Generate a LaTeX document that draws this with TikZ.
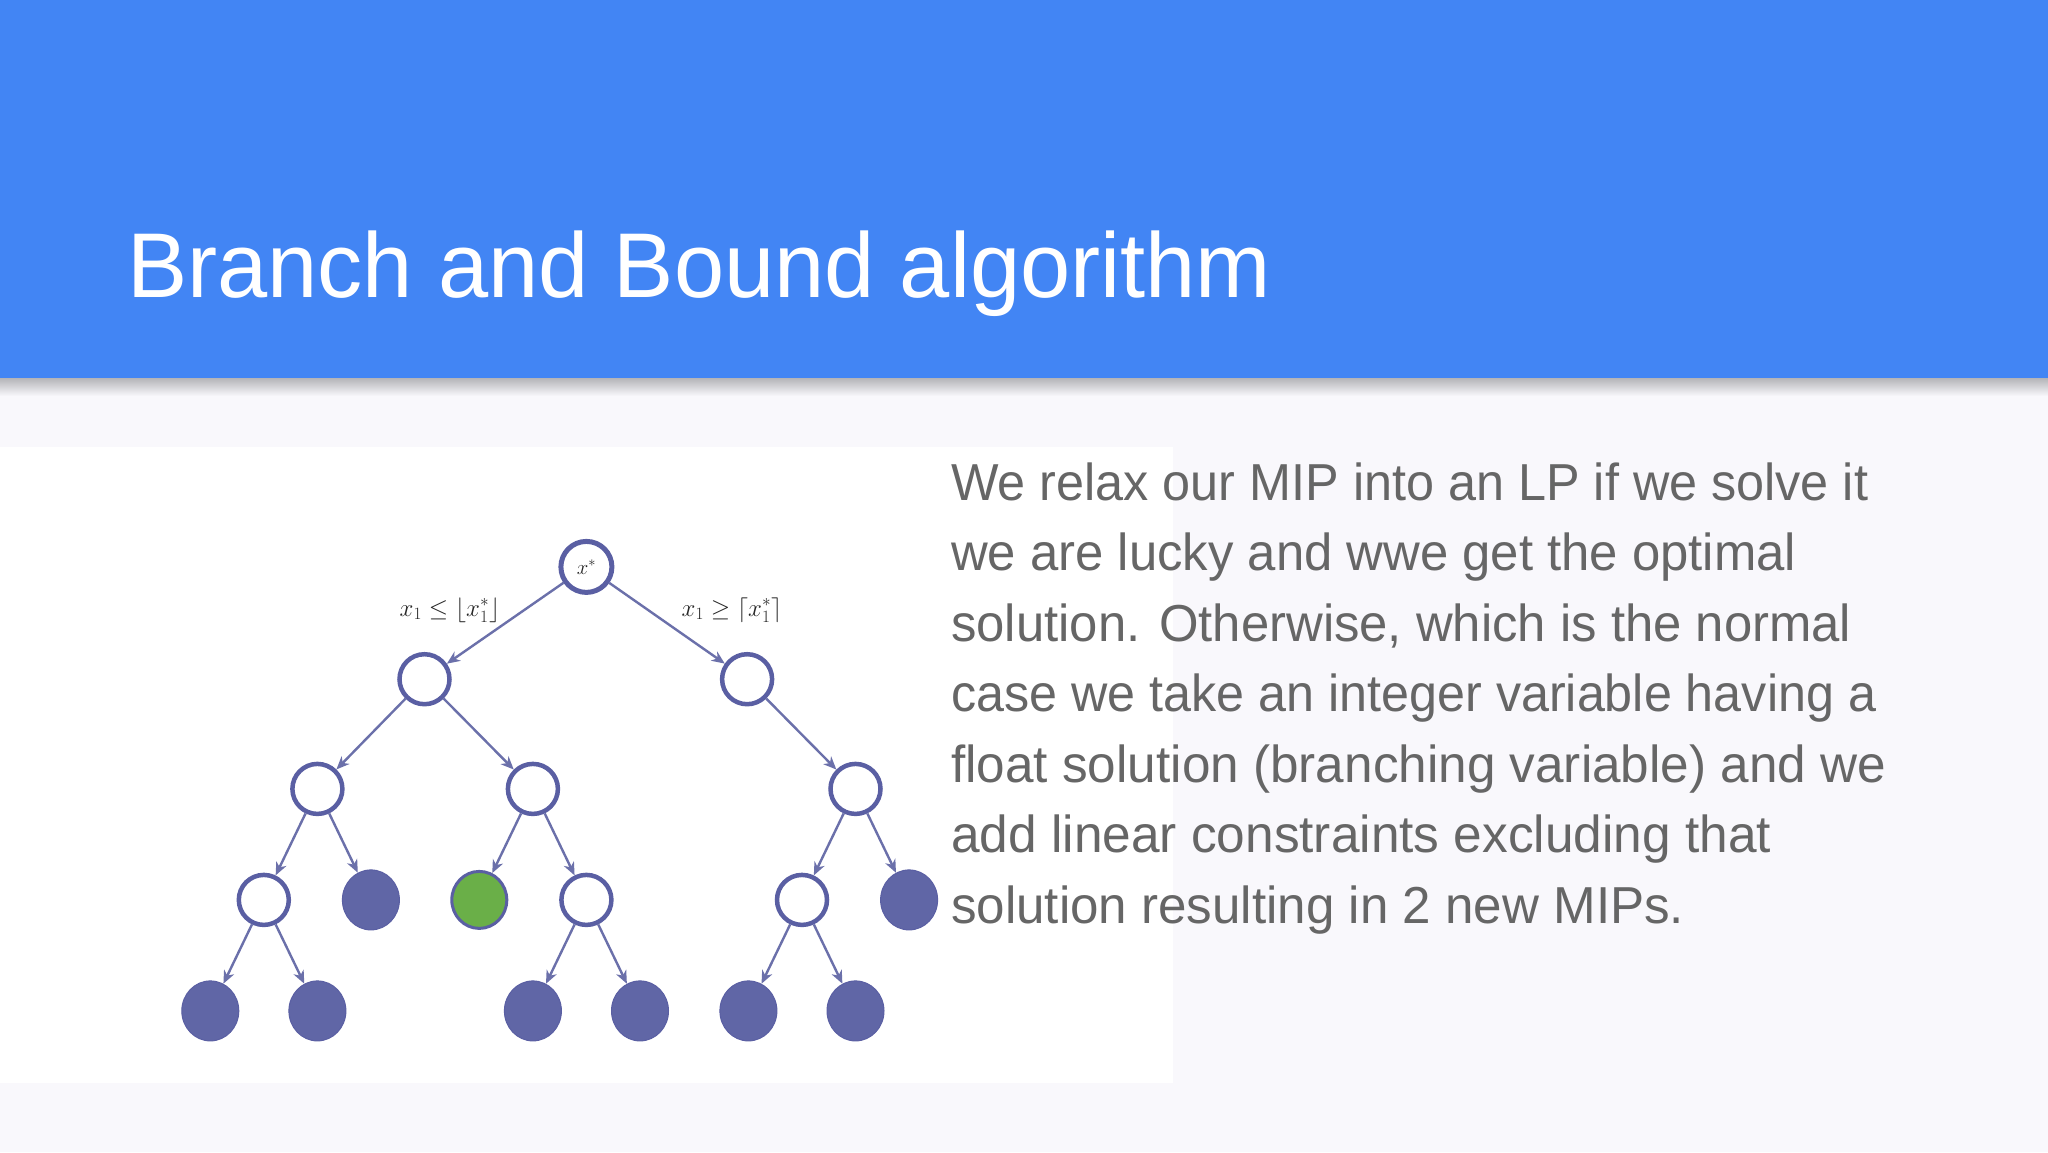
\documentclass[tikz,border=0pt]{standalone}
\usepackage{fontspec}
\setmainfont{Liberation Sans}
\usetikzlibrary{arrows.meta,shapes.geometric}
\definecolor{hdrblue}{HTML}{4285F4}
\definecolor{pagebg}{HTML}{F9F8FC}
\definecolor{bodygray}{HTML}{666666}
\definecolor{treeline}{HTML}{5A5FA3}
\definecolor{treefill}{HTML}{6066A6}
\definecolor{edgecol}{HTML}{6B70AA}
\definecolor{goodgreen}{HTML}{6AAF48}
\definecolor{shadowgray}{HTML}{B4B4B8}
\newcommand{\fitline}[2]{\resizebox{#1pt}{\height}{#2}}
\begin{document}
\begin{tikzpicture}[x=1pt,y=-1pt,
  opennode/.style={circle,draw=treeline,line width=4.5pt,fill=white,minimum size=50pt,inner sep=0pt},
  closednode/.style={ellipse,fill=treefill,draw=treeline,line width=1pt,minimum width=57pt,minimum height=60pt,inner sep=0pt},
  greennode/.style={closednode,fill=goodgreen,line width=3pt,minimum width=55pt,minimum height=57pt},
  edgeline/.style={draw=edgecol,line width=2.4pt,-{Stealth[length=13pt,width=11pt,inset=4pt]}},
  bodyline/.style={anchor=base west,inner sep=0pt,text=bodygray,font=\fontsize{52}{60}\selectfont},
  lbl/.style={anchor=base,inner sep=0pt,text=black!85,font=\fontsize{26}{30}\selectfont}
]
\useasboundingbox (0,0) rectangle (2048,1152);
% background
\fill[pagebg] (0,0) rectangle (2048,1152);
\fill[hdrblue] (0,0) rectangle (2048,378);
\shade[top color=shadowgray, bottom color=pagebg] (0,378) rectangle (2048,396);
\fill[white] (0,447) rectangle (1173,1083);
% title
\node[anchor=base west,inner sep=0pt,text=white] (title) at (127,297)
  {\fitline{1144}{\fontsize{92}{100}\selectfont Branch and Bound algorithm}};
% body text
\node[bodyline] (t1) at (951,500) {\fitline{917}{We relax our MIP into an LP if we solve it}};
\node[bodyline] (t2) at (951,570.5) {\fitline{845}{we are lucky and wwe get the optimal}};
\node[bodyline] (t3) at (951,641) {\fitline{900}{solution. Otherwise, which is the normal}};
\node[bodyline] (t4) at (951,711.5) {\fitline{925}{case we take an integer variable having a}};
\node[bodyline] (t5) at (951,782) {\fitline{935}{float solution (branching variable) and we}};
\node[bodyline] (t6) at (951,852.5) {\fitline{820}{add linear constraints excluding that}};
\node[bodyline] (t7) at (951,923) {\fitline{733}{solution resulting in 2 new MIPs.}};
% tree
\node[opennode,line width=5pt,minimum size=51pt] (root) at (586.4,566.9) {\fontsize{22}{26}\selectfont\color{black!85}$x^*$};
\node[opennode] (a1) at (424.5,679.2) {};
\node[opennode] (a2) at (747.1,679.2) {};
\node[opennode] (b1) at (317.4,788.9) {};
\node[opennode] (b2) at (532.9,788.9) {};
\node[opennode] (b3) at (855.5,788.9) {};
\node[opennode] (c1) at (263.8,899.9) {};
\node[closednode] (c2) at (370.9,899.9) {};
\node[greennode] (c3) at (479.3,899.9) {};
\node[opennode] (c4) at (586.4,899.9) {};
\node[opennode] (c5) at (802.0,899.9) {};
\node[closednode] (c6) at (909.1,899.9) {};
\node[closednode] (d1) at (210.3,1010.9) {};
\node[closednode] (d2) at (317.4,1010.9) {};
\node[closednode] (d3) at (532.9,1010.9) {};
\node[closednode] (d4) at (640.0,1010.9) {};
\node[closednode] (d5) at (748.4,1010.9) {};
\node[closednode] (d6) at (855.5,1010.9) {};
% edges
\draw[edgeline] (root) -- (a1);
\draw[edgeline] (root) -- (a2);
\draw[edgeline] (a1) -- (b1);
\draw[edgeline] (a1) -- (b2);
\draw[edgeline] (a2) -- (b3);
\draw[edgeline] (b1) -- (c1);
\draw[edgeline] (b1) -- (c2);
\draw[edgeline] (b2) -- (c3);
\draw[edgeline] (b2) -- (c4);
\draw[edgeline] (b3) -- (c5);
\draw[edgeline] (b3) -- (c6);
\draw[edgeline] (c1) -- (d1);
\draw[edgeline] (c1) -- (d2);
\draw[edgeline] (c4) -- (d3);
\draw[edgeline] (c4) -- (d4);
\draw[edgeline] (c5) -- (d5);
\draw[edgeline] (c5) -- (d6);
% branch labels
\node[lbl] (lleft) at (450,616) {$x_1\le\lfloor x_1^*\rfloor$};
\node[lbl] (lright) at (732,616) {$x_1\ge\lceil x_1^*\rceil$};
\end{tikzpicture}
\end{document}
